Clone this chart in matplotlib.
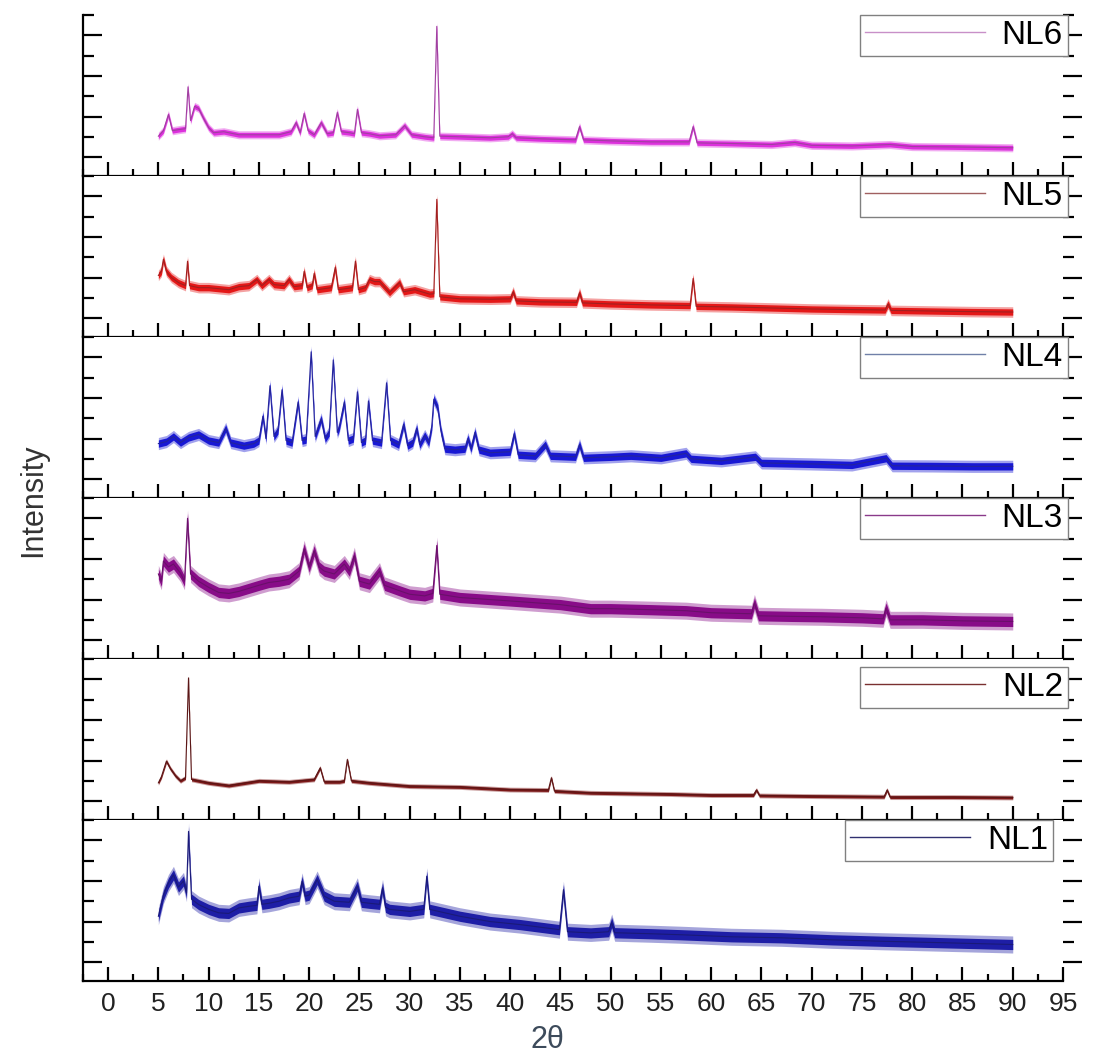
import matplotlib
matplotlib.use('Agg')
import matplotlib.pyplot as plt
from matplotlib.lines import Line2D
from matplotlib.ticker import MultipleLocator, FixedLocator
import numpy as np

plt.rcParams['font.family'] = ['Liberation Sans', 'DejaVu Sans']

# XRD patterns, (2theta, intensity in panel units)
nl6 = [(5.0, 1.03), (5.5, 1.3), (6.0, 2.1), (6.4, 1.3), (7.0, 1.35), (7.7, 1.4), (7.95, 3.46),
       (8.2, 1.8), (8.6, 2.5), (9.0, 2.4), (9.5, 1.9), (10.0, 1.45), (10.5, 1.2), (11.5, 1.25),
       (13, 1.1), (15, 1.1), (17, 1.1), (18.2, 1.25), (18.7, 1.7), (19.1, 1.2), (19.5, 2.15),
       (19.9, 1.3), (20.5, 1.1), (21.2, 1.7), (21.8, 1.15), (22.4, 1.2), (22.8, 2.2), (23.2, 1.25),
       (24.0, 1.2), (24.5, 1.15), (24.8, 2.35), (25.2, 1.2), (26, 1.15), (27, 1.05), (28.6, 1.1),
       (29.5, 1.55), (30.2, 1.1), (31.5, 1.0), (32.4, 0.95), (32.7, 6.44), (33.0, 1.03), (35, 1.0),
       (38, 0.95), (39.8, 1.0), (40.2, 1.15), (40.6, 0.95), (43, 0.9), (46.5, 0.85), (46.9, 1.5),
       (47.3, 0.85), (50, 0.8), (54, 0.75), (57.8, 0.75), (58.2, 1.5), (58.6, 0.7), (62, 0.67),
       (66, 0.62), (68.3, 0.72), (70, 0.58), (74, 0.55), (77.8, 0.62), (80, 0.52), (84, 0.5),
       (87, 0.48), (90, 0.46)]

nl5 = [(5.0, 2.1), (5.3, 2.3), (5.5, 2.9), (5.8, 2.3), (6.3, 2.0), (7.0, 1.75), (7.7, 1.6),
       (7.9, 2.8), (8.1, 1.6), (9, 1.5), (10, 1.5), (11, 1.45), (12, 1.4), (13, 1.55), (14, 1.6),
       (14.8, 1.9), (15.3, 1.6), (16, 1.9), (16.5, 1.65), (17.5, 1.6), (18, 1.9), (18.5, 1.55),
       (19.3, 1.6), (19.5, 2.3), (19.8, 1.5), (20.3, 1.6), (20.5, 2.2), (20.8, 1.4), (22.2, 1.5),
       (22.6, 2.5), (22.9, 1.4), (24.3, 1.5), (24.6, 2.8), (24.9, 1.4), (25.6, 1.5), (26.0, 1.9),
       (26.5, 1.8), (27.0, 1.8), (28.0, 1.26), (29.0, 1.75), (29.4, 1.3), (30.5, 1.4), (32.0, 1.18),
       (32.4, 1.2), (32.7, 5.85), (33.0, 1.05), (35, 0.95), (38, 0.93), (40.0, 0.95), (40.3, 1.3),
       (40.6, 0.85), (43, 0.8), (46.6, 0.78), (46.9, 1.25), (47.2, 0.75), (50, 0.7), (54, 0.65),
       (57.9, 0.62), (58.2, 1.95), (58.5, 0.58), (62, 0.55), (66, 0.5), (70, 0.45), (74, 0.42),
       (77.3, 0.4), (77.6, 0.7), (77.9, 0.38), (82, 0.35), (86, 0.32), (90, 0.3)]

nl4 = [(5.0, 1.75), (5.8, 1.85), (6.5, 2.1), (7.2, 1.8), (8.0, 2.05), (9.0, 2.2), (10.0, 1.9),
       (11.0, 1.8), (11.7, 2.5), (12.2, 1.8), (13.5, 1.65), (14.5, 1.75), (15.0, 1.9), (15.4, 3.1),
       (15.7, 2.0), (16.1, 4.6), (16.5, 2.1), (16.9, 2.4), (17.3, 4.4), (17.7, 1.9), (18.3, 1.8),
       (18.9, 3.8), (19.3, 1.9), (19.7, 1.95), (20.2, 6.27), (20.6, 2.1), (21.2, 2.97), (21.6, 2.0),
       (22.0, 2.3), (22.4, 5.87), (22.8, 2.3), (23.0, 2.56), (23.5, 3.8), (23.9, 1.9), (24.4, 2.0),
       (24.8, 4.3), (25.2, 1.8), (25.6, 1.9), (25.9, 3.85), (26.3, 1.9), (27.2, 1.8), (27.7, 4.74),
       (28.1, 1.9), (28.9, 1.7), (29.4, 2.7), (29.8, 1.65), (30.3, 1.8), (30.7, 2.5), (31.0, 1.7),
       (31.5, 2.15), (31.9, 1.8), (32.2, 2.6), (32.4, 3.94), (32.8, 3.5), (33.1, 2.4), (33.5, 1.5),
       (34.5, 1.45), (35.5, 1.5), (35.8, 2.0), (36.1, 1.5), (36.5, 2.3), (36.9, 1.45), (38, 1.3),
       (40.0, 1.35), (40.4, 2.24), (40.8, 1.2), (42.5, 1.15), (43.5, 1.7), (44.0, 1.15),
       (46.5, 1.1), (46.9, 1.7), (47.3, 1.05), (50, 1.1), (52, 1.15), (55, 1.05), (57.5, 1.27),
       (58, 1.0), (61, 0.9), (64.4, 1.1), (65, 0.8), (70, 0.75), (74, 0.7), (77.4, 1.03),
       (78, 0.66), (82, 0.65), (86, 0.63), (90, 0.63)]

nl3 = [(5.0, 3.26), (5.3, 2.9), (5.5, 3.9), (6.0, 3.6), (6.5, 3.75), (7.2, 3.3), (7.6, 2.9),
       (7.9, 6.0), (8.2, 3.26), (9, 2.9), (10, 2.6), (11, 2.35), (12, 2.3), (13, 2.4), (14, 2.55),
       (15, 2.7), (16, 2.84), (17, 2.9), (18, 3.0), (19, 3.4), (19.5, 4.5), (20, 3.6), (20.5, 4.4),
       (21.0, 3.6), (21.5, 3.4), (22.5, 3.26), (23.5, 3.75), (24.0, 3.4), (24.5, 4.16), (25, 2.9),
       (26, 2.76), (27, 3.4), (27.5, 2.7), (29, 2.43), (30, 2.26), (31.5, 2.18), (32.3, 2.3),
       (32.7, 4.66), (33.0, 2.26), (35, 2.1), (40, 1.93), (45, 1.75), (48, 1.55), (50, 1.55),
       (54, 1.5), (57.5, 1.45), (60, 1.35), (64.0, 1.3), (64.3, 1.83), (64.7, 1.2), (68, 1.17),
       (71, 1.15), (75, 1.1), (77.1, 1.05), (77.4, 1.58), (77.8, 1.0), (81, 1.0), (85, 0.95),
       (90, 0.92)]

nl2 = [(5.0, 0.9), (5.3, 1.2), (5.8, 1.97), (6.2, 1.6), (6.7, 1.25), (7.2, 1.0), (7.7, 1.15),
       (8.0, 6.07), (8.3, 1.07), (10, 0.9), (12, 0.77), (15, 1.0), (18, 0.95), (20.5, 1.07),
       (21.1, 1.64), (21.5, 0.95), (23, 0.95), (23.5, 1.0), (23.8, 2.05), (24.2, 1.0), (26, 0.9),
       (30, 0.74), (35, 0.7), (40, 0.57), (43.8, 0.55), (44.1, 1.15), (44.4, 0.5), (48, 0.41),
       (52, 0.38), (56, 0.35), (60, 0.3), (64.2, 0.3), (64.5, 0.55), (64.8, 0.28), (70, 0.25),
       (77.2, 0.22), (77.5, 0.55), (77.8, 0.2), (84, 0.2), (90, 0.18)]

nl1 = [(5.0, 2.26), (5.5, 3.3), (6.0, 3.9), (6.5, 4.3), (7.0, 3.7), (7.5, 4.0), (7.8, 3.4),
       (8.0, 6.44), (8.3, 3.1), (9, 2.84), (10, 2.6), (11, 2.43), (12, 2.4), (13, 2.67), (14, 2.75),
       (14.8, 2.8), (15.0, 3.74), (15.3, 2.85), (16, 2.9), (17, 3.0), (18, 3.16), (19, 3.25),
       (19.3, 3.98), (19.6, 3.25), (20, 3.3), (20.8, 4.07), (21.5, 3.25), (22.5, 3.0), (24, 2.95),
       (24.8, 3.74), (25.2, 2.95), (26, 2.9), (27, 2.85), (27.3, 3.66), (27.6, 2.7), (28, 2.6),
       (30, 2.5), (31.4, 2.6), (31.7, 4.23), (32.0, 2.6), (35, 2.26), (38, 2.0), (41, 1.85),
       (44.9, 1.6), (45.3, 3.57), (45.7, 1.5), (48, 1.44), (49.8, 1.5), (50.1, 1.95), (50.4, 1.45),
       (54, 1.4), (57, 1.35), (62, 1.25), (67, 1.2), (72, 1.1), (77, 1.03), (82, 0.97), (86, 0.92),
       (90, 0.87)]

names = ['NL6', 'NL5', 'NL4', 'NL3', 'NL2', 'NL1']
patterns = [nl6, nl5, nl4, nl3, nl2, nl1]
# half-width of the noise band in each pattern
noise = [0.2, 0.26, 0.3, 0.42, 0.12, 0.42]

colors = ['#dc30dc', '#e41818', '#1818d4', '#880c88', '#7c1818', '#1e1ea6']
line_colors = ['#a040a0', '#a02020', '#24249a', '#6a106a', '#5a1616', '#1a1a78']
legend_colors = ['#c890c8', '#a06060', '#7080a8', '#8a3a8a', '#7a3030', '#303070']
legend_anchor = [(1.005, 1.0), (1.005, 1.0), (1.005, 1.0), (1.005, 1.0), (1.005, 0.95), (0.99, 1.0)]

fig = plt.figure(figsize=(11.02, 10.55), dpi=100)
gs = fig.add_gridspec(6, 1, left=0.0753, right=0.9646, top=0.9858, bottom=0.0701, hspace=0)

for i, (name, pat) in enumerate(zip(names, patterns)):
    ax = fig.add_subplot(gs[i])
    x, y = map(np.array, zip(*pat))
    amp = noise[i]
    ax.fill_between(x, y - amp, y + amp, color=colors[i], alpha=0.4, lw=0)
    ax.fill_between(x, y - amp * 0.6, y + amp * 0.6, color=colors[i], lw=0)
    ax.plot(x, y, color=line_colors[i], lw=0.8)

    ax.set_xlim(-2.5, 95)
    ax.set_ylim(-0.93, 7.0)
    for side in ['top', 'right']:
        ax.spines[side].set_visible(False)
    for side in ['left', 'bottom']:
        ax.spines[side].set_linewidth(1.6)

    ax.xaxis.set_major_locator(MultipleLocator(5))
    ax.xaxis.set_minor_locator(MultipleLocator(2.5))
    ax.yaxis.set_major_locator(FixedLocator([0, 2, 4, 6]))
    ax.yaxis.set_minor_locator(FixedLocator([1, 3, 5, 7]))
    ax.tick_params(axis='x', which='both', direction='in', top=False, width=1.6,
                   labelbottom=(i == 5), labelsize=19, pad=8, labelcolor='#222222')
    ax.tick_params(axis='x', which='major', length=10)
    ax.tick_params(axis='x', which='minor', length=5)
    ax.tick_params(axis='y', which='both', direction='in', right=False, width=1.6,
                   labelleft=False)
    ax.tick_params(axis='y', which='major', length=14)
    ax.tick_params(axis='y', which='minor', length=8)

    # right-hand ticks point outwards
    rax = ax.twinx()
    rax.set_ylim(ax.get_ylim())
    for side in ['top', 'right', 'left', 'bottom']:
        rax.spines[side].set_visible(False)
    rax.yaxis.set_major_locator(FixedLocator([0, 2, 4, 6]))
    rax.yaxis.set_minor_locator(FixedLocator([1, 3, 5, 7]))
    rax.tick_params(axis='y', which='both', direction='out', width=1.6, labelright=False)
    rax.tick_params(axis='y', which='major', length=14)
    rax.tick_params(axis='y', which='minor', length=8)

    handle = Line2D([0], [0], color=legend_colors[i], lw=1.0)
    leg = rax.legend([handle], [name], loc='upper right', bbox_to_anchor=legend_anchor[i],
                     borderaxespad=0, fancybox=False, edgecolor='#808080', framealpha=1,
                     fontsize=24, handlelength=3.6, handletextpad=0.5, borderpad=0.15)
    leg.get_frame().set_linewidth(1.0)

fig.text(0.03, 0.526, 'Intensity', rotation=90, ha='center', va='center',
         fontsize=22, color='#333333')
fig.text(547 / 1102, 1 - 1040 / 1055, '2θ', ha='center', va='center',
         fontsize=22, color='#3d4b5b')

fig.savefig('out.png', dpi=100)
